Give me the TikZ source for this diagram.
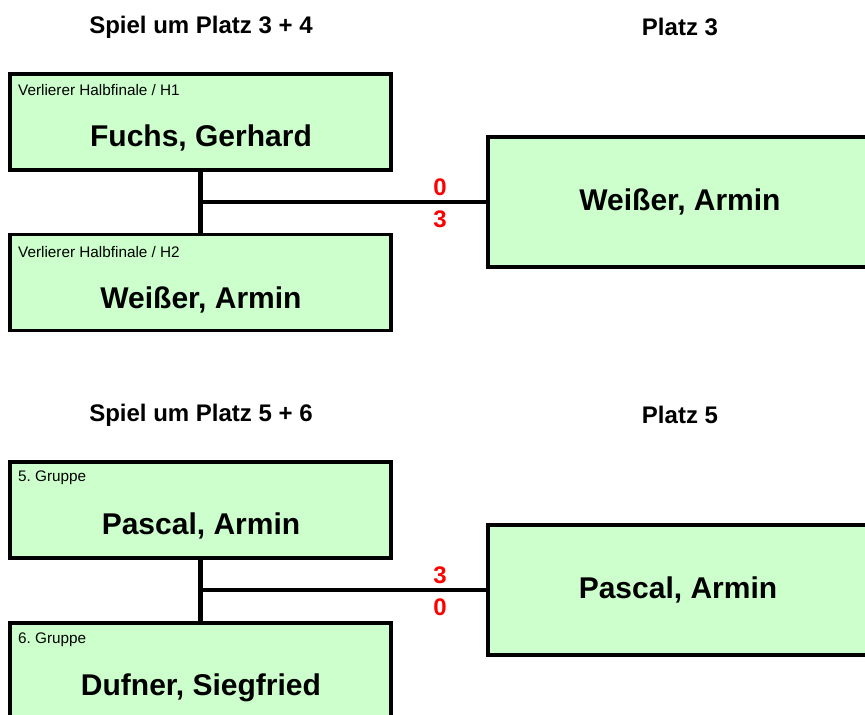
\documentclass[tikz,border=0pt]{standalone}
\usepackage{fontspec}
\setmainfont{Liberation Sans}
\frenchspacing
\definecolor{boxgreen}{HTML}{CCFFCC}
\definecolor{scorered}{HTML}{FF0000}
\tikzset{
  x=1pt, y=-1pt,
  playerbox/.style={draw=black, fill=boxgreen, line width=3.2pt, minimum width=381pt, minimum height=96pt, inner sep=0pt},
  winnerbox/.style={draw=black, fill=boxgreen, line width=3.2pt, minimum width=392pt, minimum height=130pt, inner sep=0pt},
  conn/.style={line width=4.2pt},
  smalllabel/.style={anchor=west, inner sep=0pt, font=\fontsize{15.3}{18}\selectfont},
  pname/.style={inner sep=0pt, font=\fontsize{30}{36}\selectfont\bfseries},
  titletext/.style={inner sep=0pt, font=\fontsize{24}{28}\selectfont\bfseries},
  score/.style={inner sep=0pt, text=scorered, font=\fontsize{24}{28}\selectfont\bfseries}
}
\begin{document}
\begin{tikzpicture}
\useasboundingbox (0,0) rectangle (865,715);
\clip (0,0) rectangle (865,715);
\fill[white] (0,0) rectangle (865,715);

% ---- Spiel um Platz 3 + 4
\node[titletext] (t1) at (201,27) {Spiel um Platz 3 + 4};
\node[titletext] (t2) at (680,27) {Platz 3};

\node[playerbox] (b1) at (200.5,122) {};
\node[playerbox] (b2) at (200.5,282.5) {};
\node[winnerbox] (r1) at (684,202) {};

\node[smalllabel] (l1) at (18,90) {Verlierer Halbfinale / H1};
\node[pname] (n1) at (201,138) {Fuchs, Gerhard};
\node[smalllabel] (l2) at (18,252) {Verlierer Halbfinale / H2};
\node[pname] (n2) at (201,300) {Weißer, Armin};
\node[pname] (n3) at (680,202) {Weißer, Armin};

\coordinate (j1) at (b1.south |- r1.west);
\draw[conn] (b1.south) -- (b2.north);
\draw[conn] (j1) -- (r1.west);
\node[score] (s1) at (440,187) {0};
\node[score] (s2) at (440,219) {3};

% ---- Spiel um Platz 5 + 6
\node[titletext] (t3) at (201,415) {Spiel um Platz 5 + 6};
\node[titletext] (t4) at (680,415) {Platz 5};

\node[playerbox] (b3) at (200.5,510) {};
\node[playerbox] (b4) at (200.5,671) {};
\node[winnerbox] (r2) at (684,590) {};

\node[smalllabel] (l3) at (18,478) {5. Gruppe};
\node[pname] (n4) at (201,526) {Pascal, Armin};
\node[smalllabel] (l4) at (18,640) {6. Gruppe};
\node[pname] (n5) at (201,688) {Dufner, Siegfried};
\node[pname] (n6) at (678,590) {Pascal, Armin};

\coordinate (j2) at (b3.south |- r2.west);
\draw[conn] (b3.south) -- (b4.north);
\draw[conn] (j2) -- (r2.west);
\node[score] (s3) at (440,575) {3};
\node[score] (s4) at (440,607) {0};
\end{tikzpicture}
\end{document}
